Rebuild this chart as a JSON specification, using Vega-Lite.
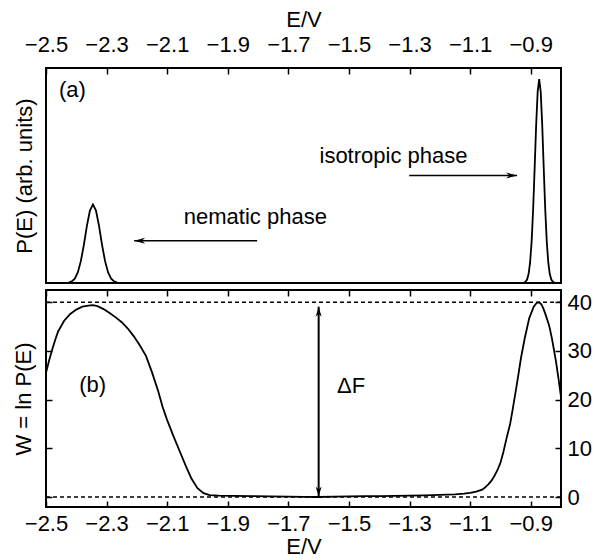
{
  "$schema": "https://vega.github.io/schema/vega-lite/v6.json",
  "padding": {"left": 11, "top": 7, "right": 2, "bottom": 2},
  "spacing": 4,
  "config": {
    "font": "Liberation Sans",
    "view": {"stroke": "black", "strokeWidth": 2},
    "axis": {
      "labelFont": "Liberation Sans", "titleFont": "Liberation Sans",
      "labelFontSize": 22, "titleFontSize": 22, "titleFontWeight": "normal",
      "labelColor": "black", "titleColor": "black", "tickColor": "black",
      "domain": false, "grid": false, "tickSize": -6, "tickWidth": 1.5,
      "labelFlush": false, "labelOverlap": false
    },
    "text": {"font": "Liberation Sans", "fontSize": 22, "color": "black"}
  },
  "datasets": {
    "P": [
      {"E": -2.5, "P": 0}, {"E": -2.46, "P": 0}, {"E": -2.445, "P": 0.0001}, {"E": -2.435, "P": 0.0006},
      {"E": -2.425, "P": 0.0023}, {"E": -2.415, "P": 0.0076}, {"E": -2.405, "P": 0.0216}, {"E": -2.395, "P": 0.052},
      {"E": -2.385, "P": 0.107}, {"E": -2.375, "P": 0.187}, {"E": -2.365, "P": 0.28}, {"E": -2.355, "P": 0.355},
      {"E": -2.345, "P": 0.385}, {"E": -2.335, "P": 0.355}, {"E": -2.325, "P": 0.28}, {"E": -2.315, "P": 0.187},
      {"E": -2.305, "P": 0.107}, {"E": -2.295, "P": 0.052}, {"E": -2.285, "P": 0.0216}, {"E": -2.275, "P": 0.0076},
      {"E": -2.265, "P": 0.0023}, {"E": -2.255, "P": 0.0006}, {"E": -2.245, "P": 0.0001}, {"E": -2.23, "P": 0},
      {"E": -0.94, "P": 0}, {"E": -0.927, "P": 0.0004}, {"E": -0.922, "P": 0.0017}, {"E": -0.917, "P": 0.0057},
      {"E": -0.912, "P": 0.0169}, {"E": -0.907, "P": 0.044}, {"E": -0.902, "P": 0.1007}, {"E": -0.897, "P": 0.203},
      {"E": -0.892, "P": 0.36}, {"E": -0.887, "P": 0.563}, {"E": -0.882, "P": 0.775}, {"E": -0.877, "P": 0.938},
      {"E": -0.872, "P": 1.0}, {"E": -0.867, "P": 0.938}, {"E": -0.862, "P": 0.775}, {"E": -0.857, "P": 0.563},
      {"E": -0.852, "P": 0.36}, {"E": -0.847, "P": 0.203}, {"E": -0.842, "P": 0.1007}, {"E": -0.837, "P": 0.044},
      {"E": -0.832, "P": 0.0169}, {"E": -0.827, "P": 0.0057}, {"E": -0.822, "P": 0.0017}, {"E": -0.817, "P": 0.0004},
      {"E": -0.805, "P": 0}, {"E": -0.8, "P": 0}
    ],
    "W": [
      {"E": -2.5, "W": 25.5}, {"E": -2.49, "W": 28.0}, {"E": -2.48, "W": 30.2}, {"E": -2.47, "W": 32.2},
      {"E": -2.46, "W": 34.0}, {"E": -2.44, "W": 36.2}, {"E": -2.42, "W": 37.6}, {"E": -2.4, "W": 38.5},
      {"E": -2.38, "W": 39.1}, {"E": -2.36, "W": 39.3}, {"E": -2.345, "W": 39.4}, {"E": -2.33, "W": 39.2},
      {"E": -2.31, "W": 38.6}, {"E": -2.29, "W": 37.8}, {"E": -2.27, "W": 36.9}, {"E": -2.25, "W": 35.9},
      {"E": -2.23, "W": 34.6}, {"E": -2.21, "W": 33.0}, {"E": -2.19, "W": 31.1}, {"E": -2.17, "W": 29.0},
      {"E": -2.15, "W": 25.6}, {"E": -2.13, "W": 21.8}, {"E": -2.115, "W": 18.5}, {"E": -2.1, "W": 15.8},
      {"E": -2.08, "W": 12.6}, {"E": -2.06, "W": 9.6}, {"E": -2.04, "W": 6.6}, {"E": -2.02, "W": 3.8},
      {"E": -2.0, "W": 1.8}, {"E": -1.98, "W": 0.8}, {"E": -1.96, "W": 0.4}, {"E": -1.93, "W": 0.3},
      {"E": -1.88, "W": 0.25}, {"E": -1.82, "W": 0.2}, {"E": -1.76, "W": 0.15}, {"E": -1.7, "W": 0.1},
      {"E": -1.65, "W": 0.05}, {"E": -1.6, "W": 0.0}, {"E": -1.55, "W": 0.1}, {"E": -1.5, "W": 0.15},
      {"E": -1.45, "W": 0.2}, {"E": -1.4, "W": 0.2}, {"E": -1.35, "W": 0.25}, {"E": -1.3, "W": 0.3},
      {"E": -1.25, "W": 0.35}, {"E": -1.2, "W": 0.45}, {"E": -1.15, "W": 0.55}, {"E": -1.12, "W": 0.7},
      {"E": -1.1, "W": 0.85}, {"E": -1.08, "W": 1.1}, {"E": -1.06, "W": 1.5}, {"E": -1.05, "W": 2.0},
      {"E": -1.04, "W": 2.6}, {"E": -1.03, "W": 3.3}, {"E": -1.02, "W": 4.3}, {"E": -1.01, "W": 5.5},
      {"E": -1.0, "W": 7.0}, {"E": -0.99, "W": 9.3}, {"E": -0.98, "W": 12.0}, {"E": -0.968, "W": 15.0},
      {"E": -0.96, "W": 17.8}, {"E": -0.949, "W": 21.9}, {"E": -0.94, "W": 25.4}, {"E": -0.932, "W": 28.6},
      {"E": -0.92, "W": 32.5}, {"E": -0.905, "W": 36.7}, {"E": -0.89, "W": 39.1}, {"E": -0.88, "W": 39.9},
      {"E": -0.872, "W": 40.0}, {"E": -0.865, "W": 39.6}, {"E": -0.858, "W": 38.7}, {"E": -0.85, "W": 37.3},
      {"E": -0.839, "W": 35.2}, {"E": -0.83, "W": 32.6}, {"E": -0.817, "W": 28.0}, {"E": -0.808, "W": 24.2},
      {"E": -0.8, "W": 20.5}
    ],
    "phases": [
      {"phase": "nematic phase", "tip": -2.209, "tail": -1.803, "P": 0.207, "textE": -1.809, "textP": 0.288},
      {"phase": "isotropic phase", "tip": -0.945, "tail": -1.301, "P": 0.527, "textE": -1.353, "textP": 0.59}
    ],
    "deltaF": [{"E": -1.6, "low": 0.1, "high": 39.1}]
  },
  "vconcat": [
    {
      "width": 515, "height": 215,
      "resolve": {"axis": {"x": "independent", "y": "independent"}},
      "layer": [
        {
          "data": {"name": "P"},
          "mark": {"type": "line", "color": "black", "strokeWidth": 1.8, "clip": true},
          "encoding": {
            "x": {"field": "E", "type": "quantitative",
                  "scale": {"domain": [-2.5, -0.8], "nice": false, "zero": false},
                  "axis": {"orient": "top", "values": [-2.5, -2.3, -2.1, -1.9, -1.7, -1.5, -1.3, -1.1, -0.9],
                           "format": ".1f", "title": "E/V", "labelPadding": 18, "titlePadding": 2}},
            "y": {"field": "P", "type": "quantitative",
                  "scale": {"domain": [0, 1.054], "nice": false},
                  "axis": {"labels": false, "ticks": false, "title": "P(E) (arb. units)", "titlePadding": 10}}
          }
        },
        {
          "data": {"name": "phases"},
          "mark": {"type": "rule", "color": "black", "strokeWidth": 1.6},
          "encoding": {
            "x": {"field": "tip", "type": "quantitative", "axis": null},
            "x2": {"field": "tail"},
            "y": {"field": "P", "type": "quantitative", "axis": null}
          }
        },
        {
          "data": {"name": "phases"},
          "transform": [{"filter": "datum.phase == 'nematic phase'"}],
          "mark": {"type": "point", "filled": true, "color": "black", "opacity": 1, "size": 484,
                   "shape": "M0,0 L1,-0.28 L0.7,0 L1,0.28 Z"},
          "encoding": {
            "x": {"field": "tip", "type": "quantitative", "axis": null},
            "y": {"field": "P", "type": "quantitative", "axis": null}
          }
        },
        {
          "data": {"name": "phases"},
          "transform": [{"filter": "datum.phase == 'isotropic phase'"}],
          "mark": {"type": "point", "filled": true, "color": "black", "opacity": 1, "size": 484,
                   "shape": "M0,0 L-1,-0.28 L-0.7,0 L-1,0.28 Z"},
          "encoding": {
            "x": {"field": "tip", "type": "quantitative", "axis": null},
            "y": {"field": "P", "type": "quantitative", "axis": null}
          }
        },
        {
          "data": {"name": "phases"},
          "mark": {"type": "text", "baseline": "alphabetic", "align": "center"},
          "encoding": {
            "x": {"field": "textE", "type": "quantitative", "axis": null},
            "y": {"field": "textP", "type": "quantitative", "axis": null},
            "text": {"field": "phase"}
          }
        },
        {
          "data": {"values": [{"E": -2.413, "P": 0.912, "label": "(a)"}]},
          "mark": {"type": "text", "baseline": "alphabetic", "align": "center"},
          "encoding": {
            "x": {"field": "E", "type": "quantitative", "axis": null},
            "y": {"field": "P", "type": "quantitative", "axis": null},
            "text": {"field": "label"}
          }
        }
      ]
    },
    {
      "width": 515, "height": 217,
      "resolve": {"axis": {"x": "independent", "y": "independent"}},
      "layer": [
        {
          "data": {"name": "W"},
          "mark": {"type": "line", "color": "black", "strokeWidth": 1.8, "clip": true},
          "encoding": {
            "x": {"field": "E", "type": "quantitative",
                  "scale": {"domain": [-2.5, -0.8], "nice": false, "zero": false},
                  "axis": {"orient": "bottom", "values": [-2.5, -2.3, -2.1, -1.9, -1.7, -1.5, -1.3, -1.1, -0.9],
                           "format": ".1f", "title": "E/V", "labelPadding": 12, "titlePadding": 2}},
            "y": {"field": "W", "type": "quantitative",
                  "scale": {"domain": [-2.05, 42.52], "nice": false, "zero": false},
                  "axis": {"orient": "right", "values": [0, 10, 20, 30, 40], "title": null, "labelPadding": 12}}
          }
        },
        {
          "data": {"values": [{"level": 40}, {"level": 0}]},
          "mark": {"type": "rule", "color": "black", "strokeWidth": 1.3, "strokeDash": [4, 3]},
          "encoding": {
            "y": {"field": "level", "type": "quantitative",
                  "axis": {"orient": "left", "values": [0, 10, 20, 30, 40], "labels": false,
                           "title": "W = ln P(E)", "titlePadding": 10}}
          }
        },
        {
          "data": {"name": "deltaF"},
          "mark": {"type": "rule", "color": "black", "strokeWidth": 2},
          "encoding": {
            "x": {"field": "E", "type": "quantitative",
                  "axis": {"orient": "top", "values": [-2.5, -2.3, -2.1, -1.9, -1.7, -1.5, -1.3, -1.1, -0.9],
                           "labels": false, "title": null}},
            "y": {"field": "low", "type": "quantitative", "axis": null},
            "y2": {"field": "high"}
          }
        },
        {
          "data": {"name": "deltaF"},
          "mark": {"type": "point", "filled": true, "color": "black", "opacity": 1, "size": 400,
                   "shape": "M0,0 L-0.3,1 L0,0.7 L0.3,1 Z"},
          "encoding": {
            "x": {"field": "E", "type": "quantitative", "axis": null},
            "y": {"field": "high", "type": "quantitative", "axis": null}
          }
        },
        {
          "data": {"name": "deltaF"},
          "mark": {"type": "point", "filled": true, "color": "black", "opacity": 1, "size": 400,
                   "shape": "M0,0 L-0.3,-1 L0,-0.7 L0.3,-1 Z"},
          "encoding": {
            "x": {"field": "E", "type": "quantitative", "axis": null},
            "y": {"field": "low", "type": "quantitative", "axis": null}
          }
        },
        {
          "data": {"values": [{"E": -1.493, "W": 21.4, "label": "ΔF"}, {"E": -2.346, "W": 21.6, "label": "(b)"}]},
          "mark": {"type": "text", "baseline": "alphabetic", "align": "center"},
          "encoding": {
            "x": {"field": "E", "type": "quantitative", "axis": null},
            "y": {"field": "W", "type": "quantitative", "axis": null},
            "text": {"field": "label"}
          }
        }
      ]
    }
  ]
}
